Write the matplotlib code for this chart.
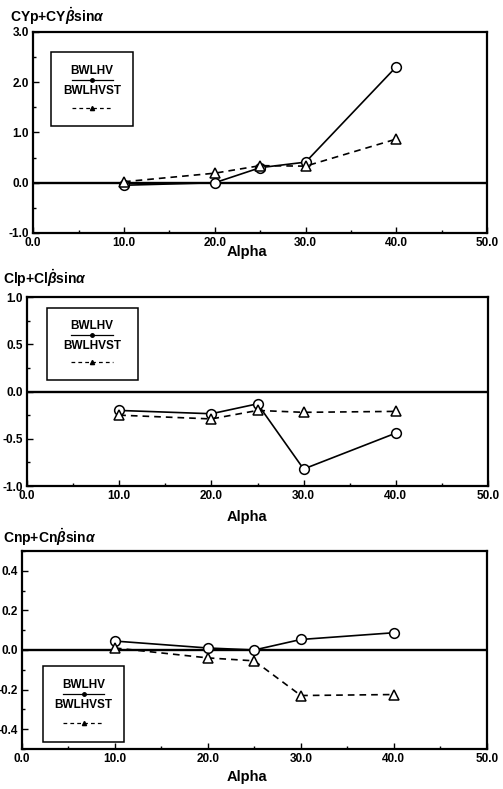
import numpy as np
import matplotlib
matplotlib.use("Agg")
import matplotlib.pyplot as plt
from matplotlib.ticker import MultipleLocator, FormatStrFormatter
from matplotlib.patches import Rectangle
from matplotlib.lines import Line2D

plt.rcParams['font.family'] = ['Liberation Sans', 'DejaVu Sans']
plt.rcParams['font.weight'] = 'bold'
plt.rcParams['axes.unicode_minus'] = False
plt.rcParams['mathtext.fontset'] = 'custom'
plt.rcParams['mathtext.rm'] = 'Liberation Sans:bold'
plt.rcParams['mathtext.it'] = 'Liberation Sans:bold:italic'

# data
alpha = [10, 20, 25, 30, 40]
series_names = ['BWLHV', 'BWLHVST']

cy_bwlhv = [-0.05, 0.0, 0.30, 0.41, 2.31]
cy_bwlhvst = [0.02, 0.19, 0.34, 0.33, 0.87]

cl_bwlhv = [-0.20, -0.235, -0.13, -0.82, -0.44]
cl_bwlhvst = [-0.25, -0.29, -0.20, -0.22, -0.21]

cn_bwlhv = [0.045, 0.01, 0.0, 0.053, 0.087]
cn_bwlhvst = [0.01, -0.04, -0.055, -0.23, -0.225]

titles = [r'CYp+CY$\dot{\beta}$sin$\alpha$',
          r'Clp+Cl$\dot{\beta}$sin$\alpha$',
          r'Cnp+Cn$\dot{\beta}$sin$\alpha$']

fig = plt.figure(figsize=(5.03, 7.89), dpi=100)

# axes rectangles [left, bottom, width, height]
rects = [[0.066, 0.7047, 0.9026, 0.2548],
         [0.0537, 0.384, 0.9165, 0.2395],
         [0.0437, 0.0507, 0.924, 0.251]]
ylims = [(-1.0, 3.0), (-1.0, 1.0), (-0.5, 0.5)]
yminor = [0.5, 0.25, 0.1]
yticks_list = [[-1.0, 0.0, 1.0, 2.0, 3.0],
               [-1.0, -0.5, 0.0, 0.5, 1.0],
               [-0.4, -0.2, 0.0, 0.2, 0.4]]
# legend box (left, bottom, right, top) in axes fraction
leg_boxes = [(0.04, 0.53, 0.22, 0.90),
             (0.043, 0.56, 0.24, 0.94),
             (0.045, 0.035, 0.22, 0.42)]
title_y = [1 - 16 / 789, 1 - 278 / 789, 1 - 537 / 789]
xlabel_y = [1 - 252 / 789, 1 - 517 / 789, 1 - 777 / 789]

data = [(cy_bwlhv, cy_bwlhvst), (cl_bwlhv, cl_bwlhvst), (cn_bwlhv, cn_bwlhvst)]

for i in range(3):
    ax = fig.add_axes(rects[i])
    s1, s2 = data[i]
    ax.plot(alpha, s1, '-', color='black', lw=1.2, marker='o', ms=7,
            mfc='white', mec='black', mew=1.1)
    ax.plot(alpha, s2, '--', color='black', lw=1.2, marker='^', ms=7,
            mfc='white', mec='black', mew=1.1, dashes=(4, 3))
    ax.axhline(0, color='black', lw=1.7, zorder=1)

    ax.set_xlim(0, 50)
    ax.set_ylim(*ylims[i])
    ax.xaxis.set_major_locator(MultipleLocator(10))
    ax.xaxis.set_minor_locator(MultipleLocator(5))
    ax.set_yticks(yticks_list[i])
    ax.yaxis.set_minor_locator(MultipleLocator(yminor[i]))
    ax.xaxis.set_major_formatter(FormatStrFormatter('%.1f'))
    ax.yaxis.set_major_formatter(FormatStrFormatter('%.1f'))
    ax.tick_params(direction='in', length=4, width=1, labelsize=8.5, pad=3)
    ax.tick_params(which='minor', direction='in', length=2.5, width=1)
    for lab in ax.get_xticklabels() + ax.get_yticklabels():
        lab.set_fontweight('bold')
    for sp in ax.spines.values():
        sp.set_linewidth(1.6)

    # legend drawn as a box with labels above line samples
    l, b, r, t = leg_boxes[i]
    ax.add_patch(Rectangle((l, b), r - l, t - b, transform=ax.transAxes,
                           fill=True, facecolor='white', edgecolor='black',
                           lw=1.1, zorder=5))
    cx = (l + r) / 2
    h = t - b
    ax.text(cx, t - 0.25 * h, series_names[0], transform=ax.transAxes,
            ha='center', va='center', fontsize=8.5, fontweight='bold', zorder=6)
    ax.add_line(Line2D([cx - 0.045, cx + 0.045], [t - 0.37 * h] * 2,
                       transform=ax.transAxes, color='black', lw=0.9,
                       marker=None, zorder=6))
    ax.plot([cx], [t - 0.37 * h], marker='o', ms=2.5, color='black',
            transform=ax.transAxes, zorder=7)
    ax.text(cx, t - 0.52 * h, series_names[1], transform=ax.transAxes,
            ha='center', va='center', fontsize=8.5, fontweight='bold', zorder=6)
    ax.add_line(Line2D([cx - 0.045, cx + 0.045], [t - 0.75 * h] * 2,
                       transform=ax.transAxes, color='black', lw=0.9,
                       ls='--', dashes=(3, 2.5), zorder=6))
    ax.plot([cx], [t - 0.75 * h], marker='^', ms=3, color='black',
            transform=ax.transAxes, zorder=7)

    fig.text(0.005 if i else 0.02, title_y[i], titles[i], fontsize=10,
             fontweight='bold', ha='left', va='center')
    fig.text(0.49, xlabel_y[i], 'Alpha', fontsize=10.5, fontweight='bold',
             ha='center', va='center')

fig.savefig('out.png', dpi=100)
